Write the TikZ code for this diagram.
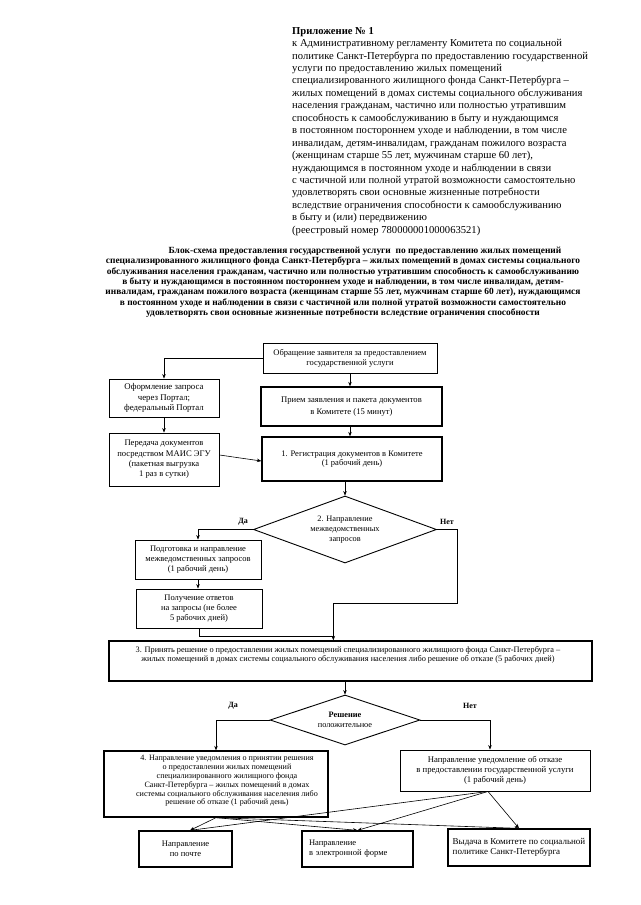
\documentclass[tikz,border=0pt]{standalone}
\usepackage{fontspec}
\setmainfont{Liberation Serif}
\usetikzlibrary{arrows.meta,shapes.geometric,calc}
\begin{document}
\begin{tikzpicture}[x=1pt,y=-1pt,
  box/.style={draw, line width=0.9pt, inner sep=0pt, align=center, font=\fontsize{8.5}{9.8}\selectfont},
  thick box/.style={box, line width=1.3pt},
  dia/.style={draw, diamond, aspect=2.7, inner sep=0pt, line width=0.9pt, align=center, font=\fontsize{8.3}{10}\selectfont},
  txt/.style={inner sep=0pt, align=center, font=\fontsize{8.3}{8.8}\selectfont},
  arr/.style={-{Stealth[length=4.5pt,width=3.5pt]}, line width=0.6pt},
  ln/.style={line width=0.6pt},
  lbl/.style={font=\fontsize{8}{9}\selectfont\bfseries, inner sep=0pt}
]
\fill[white] (0,0) rectangle (640,905);
\useasboundingbox (0,0) rectangle (640,905);

% header
\node[anchor=north west, align=left, inner sep=0pt, font=\fontsize{10.6}{12.44}\selectfont] (hdr) at (292,27)
{\textbf{Приложение № 1}\\
к Административному регламенту Комитета по социальной\\
политике Санкт-Петербурга по предоставлению государственной\\
услуги по предоставлению жилых помещений\\
специализированного жилищного фонда Санкт-Петербурга –\\
жилых помещений в домах системы социального обслуживания\\
населения гражданам, частично или полностью утратившим\\
способность к самообслуживанию в быту и нуждающимся\\
в постоянном постороннем уходе и наблюдении, в том числе\\
инвалидам, детям-инвалидам, гражданам пожилого возраста\\
(женщинам старше 55 лет, мужчинам старше 60 лет),\\
нуждающимся в постоянном уходе и наблюдении в связи\\
с частичной или полной утратой возможности самостоятельно\\
удовлетворять свои основные жизненные потребности\\
вследствие ограничения способности к самообслуживанию\\
в быту и (или) передвижению\\
(реестровый номер 780000001000063521)};

% title
\node[anchor=north, align=center, inner sep=0pt, font=\fontsize{9.4}{10.3}\selectfont\bfseries] (ttl) at (343,247)
{\hspace*{44pt}Блок-схема предоставления государственной услуги~ по предоставлению жилых помещений\\
специализированного жилищного фонда Санкт-Петербурга – жилых помещений в домах системы социального\\
обслуживания населения гражданам, частично или полностью утратившим способность к самообслуживанию\\
в быту и нуждающимся в постоянном постороннем уходе и наблюдении, в том числе инвалидам, детям-\\
инвалидам, гражданам пожилого возраста (женщинам старше 55 лет, мужчинам старше 60 лет), нуждающимся\\
в постоянном уходе и наблюдении в связи с частичной или полной утратой возможности самостоятельно\\
удовлетворять свои основные жизненные потребности вследствие ограничения способности};

% boxes
\node[box, minimum width=174pt, minimum height=30pt] (A) at (350,358)
{Обращение заявителя за предоставлением\\государственной услуги};
\node[box, minimum width=110pt, minimum height=38pt, font=\fontsize{8.8}{10.6}\selectfont] (B) at (164,398)
{Оформление запроса\\через Портал;\\федеральный Портал};
\node[thick box, minimum width=181pt, minimum height=39pt, font=\fontsize{8.6}{12}\selectfont] (C) at (351.5,406.5)
{Прием заявления и пакета документов\\в Комитете (15 минут)};
\node[box, minimum width=110pt, minimum height=53pt, font=\fontsize{8.6}{10.4}\selectfont] (D) at (164,459.5)
{Передача документов\\посредством МАИС ЭГУ\\(пакетная выгрузка\\1 раз в сутки)};
\node[thick box, minimum width=180pt, minimum height=44pt] (E) at (352,459)
{1. Регистрация документов в Комитете\\(1 рабочий день)};
\node[dia, minimum width=183pt, minimum height=67pt] (F) at (345,529.5)
{2. Направление\\межведомственных\\запросов};
\node[box, minimum width=126pt, minimum height=39pt] (G) at (198,559.5)
{Подготовка и направление\\межведомственных запросов\\(1 рабочий день)};
\node[box, minimum width=126pt, minimum height=39pt] (H) at (199,608.5)
{Получение ответов\\на запросы (не более\\5 рабочих дней)};
\node[thick box, minimum width=483pt, minimum height=40pt] (I) at (350.5,661) {};
\node[txt] (It) at (348,655)
{3. Принять решение о предоставлении жилых помещений специализированного жилищного фонда Санкт-Петербурга –\\
жилых помещений в домах системы социального обслуживания населения либо решение об отказе (5 рабочих дней)};
\node[dia, aspect=3, minimum width=150pt, minimum height=50pt] (J) at (345,720)
{\textbf{Решение}\\положительное};
\node[thick box, minimum width=224pt, minimum height=66pt] (K) at (216,784) {};
\node[txt, font=\fontsize{8.1}{8.8}\selectfont] (Kt) at (227,781)
{4. Направление уведомления о принятии решения\\
о предоставлении жилых помещений\\
специализированного жилищного фонда\\
Санкт-Петербурга – жилых помещений в домах\\
системы социального обслуживания населения либо\\
решение об отказе (1 рабочий день)};
\node[box, minimum width=190pt, minimum height=41pt, font=\fontsize{8.7}{10}\selectfont] (L) at (495,770.5)
{Направление уведомление об отказе\\в предоставлении государственной услуги\\(1 рабочий день)};
\node[thick box, minimum width=93pt, minimum height=36pt] (M) at (185.5,849)
{Направление\\по почте};
\node[thick box, minimum width=111pt, minimum height=36pt, text width=97pt, align=left] (N) at (357.5,849)
{Направление\\в электронной форме};
\node[thick box, minimum width=142pt, minimum height=37pt, align=left, font=\fontsize{9}{10.4}\selectfont] (O) at (519,847.5)
{Выдача в Комитете по социальной\\политике Санкт-Петербурга};

% labels
\node[lbl] (da1) at (243,522) {Да};
\node[lbl] (net1) at (447,522) {Нет};
\node[lbl] (da2) at (233,706) {Да};
\node[lbl] (net2) at (470,706) {Нет};

% connectors
\draw[arr] (A.west) -| (B.north);
\draw[arr] (A.south) -- (A.south |- C.north);
\draw[arr] (B.south) -- (D.north);
\draw[arr] (C.south -| A.south) -- (A.south |- E.north);
\draw[arr] ($(D.east)+(0,-4.5)$) -- ($(E.west)+(0,2)$);
\draw[arr] (F.north |- E.south) -- (F.north);
\draw[arr] (F.west) -| (G.north);
\draw[arr] (G.south) -- (G.south |- H.north);
\coordinate (i3) at ($(I.north west)+(225,0)$);
\coordinate (nr) at (457,603);
\coordinate (hj) at (334,636);
\draw[arr] (F.east) -| (nr) -- (nr -| i3) -- (i3);
\draw[ln] (H.south) |- (hj);
\draw[arr] (J.north |- I.south) -- (J.north);
\draw[arr] (J.west) -| (K.north);
\coordinate (lt) at ($(L.north)+(-5,0)$);
\draw[arr] (J.east) -| (lt);
\coordinate (ls) at ($(L.south)+(-7,0)$);
\coordinate (mt) at ($(M.north)+(4.5,0)$);
\draw[arr] (ls) -- (mt);
\draw[arr] (ls) -- (N.north);
\draw[arr] (ls) -- (O.north);
\draw[arr] (K.south) -- (mt);
\draw[arr] (K.south) -- (N.north);
\draw[arr] (K.south) -- (O.north);
\end{tikzpicture}
\end{document}
